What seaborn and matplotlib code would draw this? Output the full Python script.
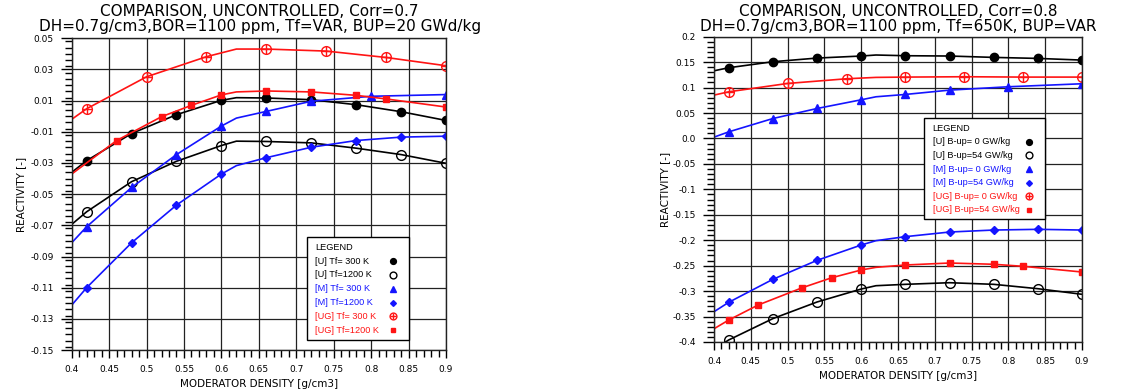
import matplotlib
matplotlib.use('Agg')
import matplotlib.pyplot as plt
from matplotlib.patches import Rectangle
from matplotlib.ticker import MultipleLocator
import pandas as pd
import seaborn as sns

# Left panel: Corr=0.7, Tf variable, BUP=20 GWd/kg
x9 = [0.42, 0.48, 0.54, 0.60, 0.66, 0.72, 0.78, 0.84, 0.90]
x8 = [0.42, 0.48, 0.54, 0.60, 0.66, 0.72, 0.80, 0.90]
x7 = [0.42, 0.50, 0.58, 0.66, 0.74, 0.82, 0.90]
x_ug1200 = [0.46, 0.52, 0.56, 0.60, 0.66, 0.72, 0.78, 0.82, 0.90]
x_ug54 = [0.42, 0.46, 0.52, 0.56, 0.60, 0.66, 0.72, 0.78, 0.82, 0.90]

y_u300 = [-0.0285, -0.0111, 0.0010, 0.0102, 0.0117, 0.0106, 0.0074, 0.0029, -0.0027]
y_u1200 = [-0.0613, -0.0420, -0.0289, -0.0188, -0.0162, -0.0171, -0.0205, -0.0246, -0.0302]
y_m300 = [-0.0709, -0.0457, -0.0246, -0.0063, 0.0031, 0.0096, 0.0128, 0.0139]
y_m1200 = [-0.1100, -0.0812, -0.0570, -0.0371, -0.0266, -0.0199, -0.0156, -0.0134, -0.0128]
y_ug300 = [0.0048, 0.0253, 0.0382, 0.0431, 0.0418, 0.0377, 0.0324]
y_ug1200 = [-0.0156, -0.0003, 0.0070, 0.0137, 0.0162, 0.0156, 0.0134, 0.0111, 0.0059]

# curve value at 0.40 and at the joint 0.62
start_left = [-0.0360, -0.0694, -0.0812, -0.1212, -0.0020, -0.0371]
joint_left = [0.0119, -0.0160, -0.0012, -0.0317, 0.0431, 0.0156]

# Right panel: Corr=0.8, Tf=650K, BUP variable
y_u0 = [0.1390, 0.1508, 0.1580, 0.1620, 0.1626, 0.1620, 0.1593, 0.1573, 0.1540]
y_u54 = [-0.3960, -0.3540, -0.3214, -0.2959, -0.2867, -0.2835, -0.2867, -0.2953, -0.3063]
y_m0 = [0.0130, 0.0392, 0.0589, 0.0760, 0.0865, 0.0950, 0.1016, 0.1075]
y_m54 = [-0.3220, -0.2768, -0.2395, -0.2094, -0.1930, -0.1839, -0.1800, -0.1786, -0.1800]
y_ug0 = [0.0917, 0.1081, 0.1173, 0.1206, 0.1213, 0.1206, 0.1206]
y_ug54 = [-0.3568, -0.3273, -0.2933, -0.2737, -0.2585, -0.2487, -0.2448, -0.2473, -0.2513, -0.2625]

start_right = [0.1330, -0.4144, 0.0026, -0.3405, 0.0852, -0.3740]
joint_right = [0.1640, -0.2894, 0.0819, -0.2009, 0.1200, -0.2533]

labels_left = ["[U] Tf= 300 K", "[U] Tf=1200 K", "[M] Tf= 300 K",
               "[M] Tf=1200 K", "[UG] Tf= 300 K", "[UG] Tf=1200 K"]
labels_right = ["[U] B-up= 0 GW/kg", "[U] B-up=54 GW/kg", "[M] B-up= 0 GW/kg",
                "[M] B-up=54 GW/kg", "[UG] B-up= 0 GW/kg", "[UG] B-up=54 GW/kg"]

xticks = [0.4, 0.45, 0.5, 0.55, 0.6, 0.65, 0.7, 0.75, 0.8, 0.85, 0.9]
xticklabels = ["0.4", "0.45", "0.5", "0.55", "0.6", "0.65", "0.7", "0.75", "0.8", "0.85", "0.9"]
yticks_left = [0.05, 0.03, 0.01, -0.01, -0.03, -0.05, -0.07, -0.09, -0.11, -0.13, -0.15]
yticklabels_left = ["0.05", "0.03", "0.01", "-0.01", "-0.03", "-0.05", "-0.07",
                    "-0.09", "-0.11", "-0.13", "-0.15"]
yticks_right = [0.2, 0.15, 0.1, 0.05, 0.0, -0.05, -0.1, -0.15, -0.2, -0.25, -0.3, -0.35, -0.4]
yticklabels_right = ["0.2", "0.15", "0.1", "0.05", "0.0", "-0.05", "-0.1", "-0.15",
                     "-0.2", "-0.25", "-0.3", "-0.35", "-0.4"]

BLUE = '#1414ff'
RED = '#ff1414'
# colour, marker ('oplus' = open circle with a plus), filled, marker size
styles = [
    ('black', 'o', True, 6),
    ('black', 'o', False, 7),
    (BLUE, '^', True, 5.5),
    (BLUE, 'D', True, 4.2),
    (RED, 'oplus', True, 7),
    (RED, 's', True, 5),
]

LEG_FONT = ['Liberation Sans', 'DejaVu Sans']
LEG_SIZE = 6.6


def marker_kws(col, mk, filled, ms, scale=1.0):
    """matplotlib marker kwargs; 'oplus' gives a list of two layers."""
    if mk == 'oplus':
        return [dict(marker='o', markersize=ms * scale, markeredgecolor=col,
                     markerfacecolor='none', markeredgewidth=1.0),
                dict(marker='+', markersize=ms * scale, markeredgecolor=col,
                     markeredgewidth=1.0)]
    return [dict(marker=mk, markersize=ms * scale, markeredgecolor=col,
                 markerfacecolor=col if filled else 'none', markeredgewidth=1.0)]


def draw_legend(ax, labels, box, title_y, dy, text_x, mark_x):
    x0, y0, x1, y1 = box
    ax.add_patch(Rectangle((x0, y0), x1 - x0, y1 - y0, transform=ax.transAxes,
                           facecolor='white', edgecolor='black', lw=1.0, zorder=5))
    ax.text(text_x, title_y, "LEGEND", transform=ax.transAxes, fontsize=LEG_SIZE,
            family=LEG_FONT, va='center', ha='left', zorder=6)
    for i, (lab, (col, mk, filled, ms)) in enumerate(zip(labels, styles)):
        yy = title_y - (i + 1) * dy
        ax.text(text_x, yy, lab, transform=ax.transAxes, fontsize=LEG_SIZE,
                family=LEG_FONT, color=col, va='center', ha='left', zorder=6)
        for kw in marker_kws(col, mk, filled, ms, scale=0.7):
            ax.plot([mark_x], [yy], transform=ax.transAxes, linestyle='',
                    clip_on=False, zorder=6, **kw)


def draw_panel(ax, xs, ys, starts, joints, labels, yticks, yticklabels, ylim, yminor,
               xlab_y, ylab_x, leg):
    for i, (xm, ym) in enumerate(zip(xs, ys)):
        col, mk, filled, ms = styles[i]
        cx = [0.40] + list(xm) + [0.62]
        cy = [starts[i]] + list(ym) + [joints[i]]
        curve = pd.DataFrame({'x': cx, 'y': cy}).sort_values('x')
        sns.lineplot(data=curve, x='x', y='y', ax=ax, color=col, lw=1.2,
                     estimator=None, sort=True)
        pts = pd.DataFrame({'x': xm, 'y': ym})
        for kw in marker_kws(col, mk, filled, ms):
            sns.lineplot(data=pts, x='x', y='y', ax=ax, linestyle='',
                         estimator=None, color=col, **kw)

    ax.set_xlim(0.4, 0.9)
    ax.set_ylim(*ylim)
    ax.set_xticks(xticks)
    ax.set_xticklabels(xticklabels)
    ax.set_yticks(yticks)
    ax.set_yticklabels(yticklabels)
    ax.xaxis.set_minor_locator(MultipleLocator(0.01))
    ax.yaxis.set_minor_locator(MultipleLocator(yminor))
    ax.tick_params(which='major', direction='out', length=8, width=1, labelsize=6.5, pad=5)
    ax.tick_params(axis='x', which='major', length=6, pad=5)
    ax.tick_params(which='minor', direction='out', length=5, width=1)
    ax.grid(True, which='major', color='#222222', lw=0.9)
    for s in ax.spines.values():
        s.set_linewidth(1.0)
        s.set_color('#222222')

    ax.set_xlabel("MODERATOR DENSITY [g/cm3]", fontsize=7.5)
    ax.set_ylabel("REACTIVITY [-]", fontsize=7.5)
    ax.xaxis.set_label_coords(0.5, xlab_y)
    ax.yaxis.set_label_coords(ylab_x, 0.5)

    draw_legend(ax, labels, *leg)


fig = plt.figure(figsize=(11.22, 3.92), dpi=100)
ax1 = fig.add_axes([0.0639, 0.1071, 0.3336, 0.7952])
ax2 = fig.add_axes([0.6364, 0.1276, 0.3280, 0.7788])

draw_panel(ax1, [x9, x9, x8, x9, x7, x_ug1200],
           [y_u300, y_u1200, y_m300, y_m1200, y_ug300, y_ug1200],
           start_left, joint_left, labels_left, yticks_left, yticklabels_left,
           (-0.15, 0.05), 0.004, -0.093, -0.122,
           ((0.628, 0.032, 0.902, 0.3635), 0.3295, 0.0443, 0.650, 0.858))
draw_panel(ax2, [x9, x9, x8, x9, x7, x_ug54],
           [y_u0, y_u54, y_m0, y_m54, y_ug0, y_ug54],
           start_right, joint_right, labels_right, yticks_right, yticklabels_right,
           (-0.4, 0.2), 0.01, -0.095, -0.12,
           ((0.571, 0.402, 0.899, 0.735), 0.700, 0.0445, 0.594, 0.856))

fig.text(0.2315, 1 - 12 / 392, "COMPARISON, UNCONTROLLED, Corr=0.7",
         ha='center', va='center', fontsize=11)
fig.text(0.2315, 1 - 26.5 / 392, "DH=0.7g/cm3,BOR=1100 ppm, Tf=VAR, BUP=20 GWd/kg",
         ha='center', va='center', fontsize=11)
fig.text(0.8004, 1 - 11.5 / 392, "COMPARISON, UNCONTROLLED, Corr=0.8",
         ha='center', va='center', fontsize=11)
fig.text(0.8004, 1 - 26.5 / 392, "DH=0.7g/cm3,BOR=1100 ppm, Tf=650K, BUP=VAR",
         ha='center', va='center', fontsize=11)

fig.savefig('out.png', dpi=100)
